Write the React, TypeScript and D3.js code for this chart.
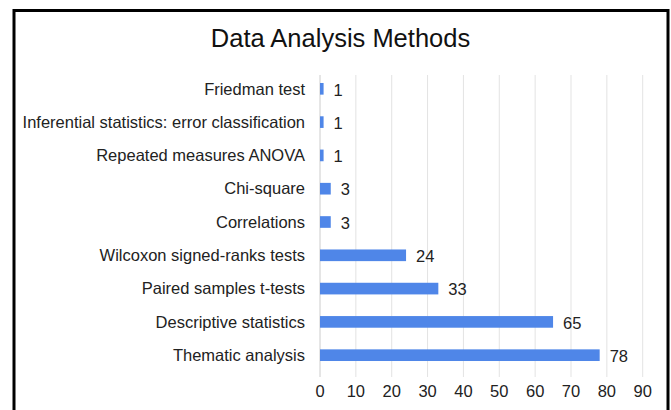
import React, { useEffect, useRef } from "react";
import * as d3 from "d3";

const categories = [
  "Friedman test",
  "Inferential statistics: error classification",
  "Repeated measures ANOVA",
  "Chi-square",
  "Correlations",
  "Wilcoxon signed-ranks tests",
  "Paired samples t-tests",
  "Descriptive statistics",
  "Thematic analysis",
];
const counts = [1, 1, 1, 3, 3, 24, 33, 65, 78];
const xTicks = [0, 10, 20, 30, 40, 50, 60, 70, 80, 90];

const W = 671;
const H = 410;

const App: React.FC = () => {
  const svgRef = useRef<SVGSVGElement | null>(null);

  useEffect(() => {
    const svg = d3.select(svgRef.current);
    svg.selectAll("*").remove();

    const font = "'Liberation Sans', Arial, sans-serif";
    const left = 320;
    const right = 642.7;
    const top = 72;
    const bottom = 372;

    const x = d3.scaleLinear().domain([0, 90]).range([left, right]);
    const y = d3.scaleBand<string>().domain(categories).range([top, bottom]).paddingInner(0.65).paddingOuter(0.33);

    svg.append("rect").attr("width", W).attr("height", H).attr("fill", "#fff");

    // frame
    svg.append("rect")
      .attr("x", 14).attr("y", 10.5)
      .attr("width", 654).attr("height", 420)
      .attr("fill", "none").attr("stroke", "#000").attr("stroke-width", 3);

    svg.append("text")
      .attr("x", 340.5).attr("y", 47)
      .attr("text-anchor", "middle")
      .attr("font-family", font).attr("font-size", 25.5)
      .attr("fill", "#111")
      .text("Data Analysis Methods");

    // gridlines
    svg.append("g")
      .selectAll("line")
      .data(xTicks)
      .enter()
      .append("line")
      .attr("x1", d => x(d)).attr("x2", d => x(d))
      .attr("y1", 75).attr("y2", 377)
      .attr("stroke", (d) => (d === 0 ? "#ccc" : "#e3e3e3"))
      .attr("stroke-width", 1);

    // tick labels
    svg.append("g")
      .selectAll("text")
      .data(xTicks)
      .enter()
      .append("text")
      .attr("x", d => x(d)).attr("y", 397)
      .attr("text-anchor", "middle")
      .attr("font-family", font).attr("font-size", 16.5)
      .attr("fill", "#222")
      .text(d => d);

    // bars
    svg.append("g")
      .selectAll("rect")
      .data(categories)
      .enter()
      .append("rect")
      .attr("x", x(0))
      .attr("y", d => y(d)!)
      .attr("width", (d, i) => x(counts[i]) - x(0))
      .attr("height", y.bandwidth())
      .attr("fill", "#4f86e8");

    // category labels
    svg.append("g")
      .selectAll("text")
      .data(categories)
      .enter()
      .append("text")
      .attr("x", 305)
      .attr("y", d => y(d)! + y.bandwidth() / 2)
      .attr("dy", "0.35em")
      .attr("text-anchor", "end")
      .attr("font-family", font).attr("font-size", 16.5)
      .attr("fill", "#222")
      .text(d => d);

    // value labels
    svg.append("g")
      .selectAll("text")
      .data(categories)
      .enter()
      .append("text")
      .attr("x", (d, i) => x(counts[i]) + 10)
      .attr("y", d => y(d)! + y.bandwidth() / 2 + 1)
      .attr("dy", "0.35em")
      .attr("font-family", font).attr("font-size", 16.5)
      .attr("fill", "#222")
      .text((d, i) => counts[i]);
  }, []);

  return (
    <svg
      ref={svgRef}
      width={W}
      height={H}
      style={{ position: "absolute", left: 0, top: 0, display: "block" }}
    />
  );
};

export default App;
